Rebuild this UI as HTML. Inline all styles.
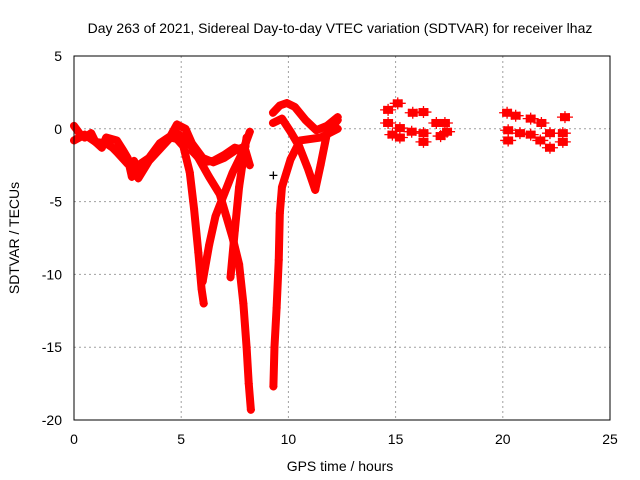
<!DOCTYPE html>
<html><head><meta charset="utf-8"><style>
body{margin:0;background:#fff}
svg{display:block;font-family:"Liberation Sans",sans-serif}
</style></head><body>
<svg id="chart" width="640" height="480">
<text x="340" y="33" font-size="14" text-anchor="middle">Day 263 of 2021, Sidereal Day-to-day VTEC variation (SDTVAR) for receiver lhaz</text>
<g id="grid"></g>
<g id="ticks"></g>
<g id="marks"></g>
<rect x="74" y="56" width="536" height="364" fill="none" stroke="#000" stroke-width="1"/>
<text x="340" y="471" font-size="14" text-anchor="middle">GPS time / hours</text>
<text x="19" y="238" font-size="14" text-anchor="middle" transform="rotate(-90 19 238)">SDTVAR / TECUs</text>
</svg>
<script>
const xTicks=[0,5,10,15,20,25];
const yTicks=[5,0,-5,-10,-15,-20];
const trackA=[[0,0.2],[0.3,-0.4],[0.5,-0.6],[0.8,-0.3],[1,-0.9],[1.3,-1.3],[1.5,-0.6],[2,-0.8],[2.3,-1.5],[2.5,-2],[2.7,-3.3],[3,-2.5],[3.5,-2],[4,-1],[4.5,-0.5],[4.8,0.3],[5.2,0],[5.5,-1],[6,-2],[6.5,-2.3],[7,-2],[7.5,-1.5],[8,-1.2]];
const trackA2=[[0,-0.8],[0.5,-0.4],[1,-0.9],[1.5,-1],[1.8,-1.3],[2,-1.6],[2.5,-2.4],[2.8,-2.2],[3,-3.4],[3.5,-2.2],[4,-1.4],[4.5,-0.6],[4.8,-0.7]];
const trackB=[[4.8,-0.7],[5.1,-1.2],[5.4,-3],[5.6,-5.5],[5.8,-8.5],[5.95,-11],[6.05,-12]];
const trackC=[[6.0,-10.5],[6.3,-8],[6.6,-6],[7.0,-4.5],[7.4,-3],[7.8,-1.8],[8.2,-0.2]];
const trackD=[[4.8,-0.3],[5.3,-0.8],[5.8,-2],[6.3,-3.3],[6.8,-4.5],[7.1,-6],[7.4,-7.5],[7.7,-9.3],[7.9,-12],[8.05,-15],[8.15,-17.5],[8.25,-19.3]];
const trackE=[[7.3,-10.2],[7.5,-7],[7.7,-4],[7.9,-2],[8.05,-0.6]];
const trackF=[[5.5,-1.5],[6,-2.3],[6.5,-2.2],[7,-1.8],[7.5,-1.3],[8,-1.5],[8.2,-2.5]];
const trackG=[[9.28,1.1],[9.6,1.6],[9.93,1.77],[10.3,1.5],[10.8,0.6],[11.3,-0.1],[11.8,0.2],[12.3,0.8]];
const trackH=[[9.28,0.4],[9.7,0.7],[10.1,-0.2],[10.5,-1.2],[10.9,-2.7],[11.25,-4.2],[11.5,-2.5],[11.8,-0.3],[12.3,0.6]];
const trackI=[[9.3,-17.7],[9.35,-15],[9.45,-12.3],[9.55,-9],[9.6,-5.8],[9.7,-4],[10.1,-2.1],[10.55,-0.8],[11.5,-0.6],[12.3,0]];
const clusters=[[14.65,1.3],[15.1,1.75],[15.8,1.1],[16.3,1.15],[14.65,0.4],[15.2,0.05],[14.85,-0.4],[15.2,-0.6],[15.75,-0.2],[16.3,-0.3],[16.3,-0.9],[16.9,0.4],[17.1,-0.5],[17.3,0.4],[17.4,-0.2],
[20.2,1.1],[20.6,0.9],[20.25,-0.1],[20.25,-0.8],[20.8,-0.3],[21.3,0.7],[21.8,0.4],[21.3,-0.4],[21.75,-0.8],[22.2,-0.3],[22.2,-1.3],[22.9,0.8],[22.8,-0.3],[22.8,-0.9]];
const outlier=[[9.3,-3.2]];
const tracks=[trackA,trackA2,trackB,trackC,trackD,trackE,trackF,trackG,trackH,trackI];
const NS="http://www.w3.org/2000/svg";
const X=h=>74+h*536/25;
const Y=v=>56+(5-v)*364/25;
function mk(t,a,p){const e=document.createElementNS(NS,t);for(const k in a)e.setAttribute(k,a[k]);p.appendChild(e);return e;}
const grid=document.getElementById('grid'),ticks=document.getElementById('ticks'),marks=document.getElementById('marks');
xTicks.forEach(t=>{
 if(t>0&&t<25){const l=mk('line',{x1:X(t),x2:X(t),y1:56,y2:420,stroke:'#a0a0a0','stroke-dasharray':'2,3'},grid);
 
 }
 const tx=mk('text',{x:X(t),y:444,'font-size':14,'text-anchor':'middle'},ticks);tx.textContent=t;
 
 
});
yTicks.forEach(t=>{
 if(t>-20&&t<5){const l=mk('line',{x1:74,x2:610,y1:Y(t),y2:Y(t),stroke:'#a0a0a0','stroke-dasharray':'2,3'},grid);
 
 }
 const tx=mk('text',{x:62,y:Y(t)+5,'font-size':14,'text-anchor':'end'},ticks);tx.textContent=t;
 
 
});
function plus(x,y,c){const p=mk('path',{d:`M${x-4},${y}h8M${x},${y-4}v8`,stroke:c,'stroke-width':1.3,fill:'none'},marks);
 
 }
tracks.forEach(tr=>{
 const pl=mk('polyline',{points:tr.map(p=>X(p[0])+','+Y(p[1])).join(' '),fill:'none',stroke:'#ff0000','stroke-width':8,'stroke-linejoin':'round','stroke-linecap':'round'},marks);
 
 
 tr.forEach(p=>plus(X(p[0]),Y(p[1]),'#ff0000'));
});
clusters.forEach(p=>{
 const x=X(p[0]),y=Y(p[1]);
 const b=mk('rect',{x:x-5,y:y-4,width:10,height:8,fill:'#ff0000'},marks);
 
 
 plus(x-4,y,'#ff0000');plus(x+4,y,'#ff0000');plus(x,y-2,'#ff0000');plus(x,y+2,'#ff0000');
});
outlier.forEach(p=>plus(X(p[0]),Y(p[1]),'#000'));
</script>
</body></html>
